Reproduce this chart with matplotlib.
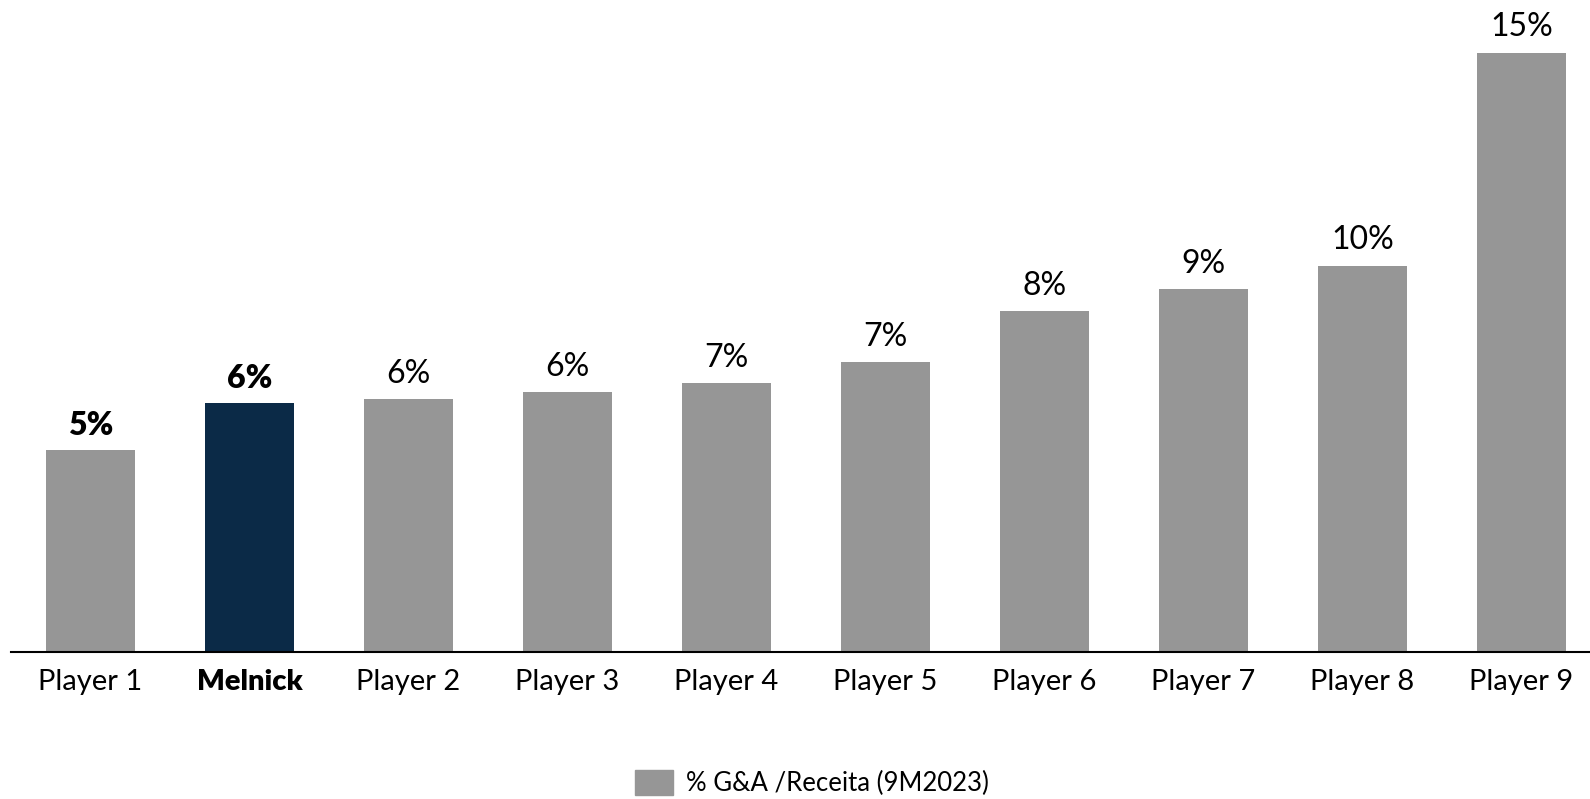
import numpy as np
import matplotlib
matplotlib.use('Agg')
import matplotlib.pyplot as plt
from matplotlib.patches import Patch

# categories and values (% G&A / Receita, 9M2023)
players = ['Player 1', 'Melnick', 'Player 2', 'Player 3', 'Player 4',
           'Player 5', 'Player 6', 'Player 7', 'Player 8', 'Player 9']
values = [5.0, 6.16, 6.26, 6.44, 6.66, 7.19, 8.45, 9.0, 9.58, 14.86]
highlight = 'Melnick'
legend_label = '% G&A /Receita (9M2023)'

gray = '#969696'
navy = '#0B2A47'

plt.rcParams['font.family'] = ['Lato', 'DejaVu Sans']

fig = plt.figure(figsize=(15.9, 7.99), dpi=100)
ax = fig.add_axes([11 / 1590, (799 - 652) / 799, 1 - 11 / 1590, 652 / 799])

x = np.arange(len(players))
colors = [navy if p == highlight else gray for p in players]
ax.bar(x, values, width=0.56, color=colors)

# value labels above bars (first two in bold)
for xi, v, p in zip(x, values, players):
    ax.text(xi, v + 0.25, '{:.0f}%'.format(v), ha='center', va='bottom',
            fontsize=23, fontweight='heavy' if p in (highlight, 'Player 1') else 'normal',
            color='black')

ax.set_xlim(-0.5, (1590 - 90.5) / 159)
ax.set_ylim(0, 14.86 * 652 / 599.5)
ax.set_xticks(x)
ax.set_xticklabels(players, fontsize=21)
for lbl in ax.get_xticklabels():
    if lbl.get_text() == highlight:
        lbl.set_fontweight('heavy')
ax.tick_params(axis='x', length=0, pad=12)
ax.set_yticks([])
for s in ['top', 'right', 'left']:
    ax.spines[s].set_visible(False)
ax.spines['bottom'].set_linewidth(1.5)

fig.legend(handles=[Patch(color=gray, label=legend_label)], loc='center',
           bbox_to_anchor=(812 / 1590, 1 - 783 / 799), frameon=False, fontsize=18.5,
           handlelength=1.5, handleheight=1.15, handletextpad=0.5)

fig.savefig('out.png', dpi=100)
